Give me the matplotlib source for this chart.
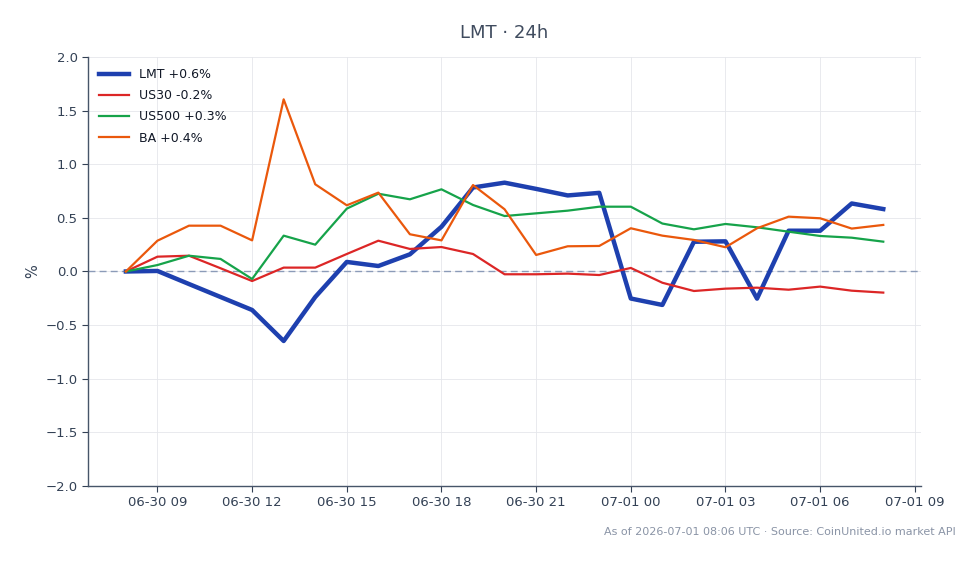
import matplotlib
matplotlib.use("Agg")
import matplotlib.pyplot as plt
import matplotlib.dates as mdates
import numpy as np
import pandas as pd

# ---------------------------------------------------------------------------
# Data (% change vs. start of window, hourly)
# ---------------------------------------------------------------------------
times = pd.date_range("2026-06-30 08:00", "2026-07-01 08:00", freq="h")

lmt = [0.00, 0.005, -0.117, -0.238, -0.359, -0.648, -0.238, 0.089, 0.051, 0.16,
       0.417, 0.783, 0.828, 0.77, 0.709, 0.733, -0.252, -0.312, 0.277, 0.281,
       -0.253, 0.38, 0.38, 0.634, 0.582]
us30 = [0.00, 0.138, 0.147, 0.03, -0.089, 0.036, 0.036, 0.163, 0.287, 0.21,
        0.228, 0.163, -0.026, -0.026, -0.02, -0.033, 0.033, -0.105, -0.182, -0.16,
        -0.151, -0.17, -0.141, -0.179, -0.197]
us500 = [0.00, 0.06, 0.147, 0.117, -0.07, 0.334, 0.25, 0.586, 0.725, 0.673,
         0.766, 0.62, 0.517, 0.542, 0.567, 0.604, 0.604, 0.447, 0.393, 0.443,
         0.412, 0.371, 0.331, 0.315, 0.278]
ba = [0.00, 0.287, 0.427, 0.427, 0.29, 1.605, 0.813, 0.617, 0.735, 0.347,
      0.29, 0.806, 0.58, 0.154, 0.235, 0.238, 0.403, 0.334, 0.294, 0.226,
      0.403, 0.511, 0.496, 0.4, 0.434]

series = [
    ("LMT +0.6%", lmt, "#1e40af", 3.2),
    ("US30 -0.2%", us30, "#dc2626", 1.6),
    ("US500 +0.3%", us500, "#16a34a", 1.6),
    ("BA +0.4%", ba, "#ea580c", 1.6),
]

TEXT = "#334155"
GRID = "#e5e7eb"

fig = plt.figure(figsize=(9.79, 5.64), dpi=100)
ax = fig.add_axes([0.0899, 0.1383, 0.851, 0.7607])
fig.patch.set_facecolor("white")

for label, vals, color, lw in series:
    ax.plot(times, vals, color=color, linewidth=lw, label=label, zorder=3)

ax.axhline(0, color="#8b9bb8", linewidth=1.0, linestyle=(0, (5, 3)), zorder=2)

ax.set_ylim(-2.0, 2.0)
ax.set_yticks(np.arange(-2.0, 2.01, 0.5))
ax.xaxis.set_major_locator(mdates.HourLocator(byhour=[0, 3, 6, 9, 12, 15, 18, 21]))
ax.xaxis.set_major_formatter(mdates.DateFormatter("%m-%d %H"))

ax.grid(True, color=GRID, linewidth=0.6, zorder=0)
for sp in ["top", "right"]:
    ax.spines[sp].set_visible(False)
for sp in ["left", "bottom"]:
    ax.spines[sp].set_color("#475569")
    ax.spines[sp].set_linewidth(1.0)
ax.tick_params(colors=TEXT, labelsize=9.5, length=4, width=0.8)
for t in ax.get_xticklabels() + ax.get_yticklabels():
    t.set_color(TEXT)

ax.set_ylabel("%", fontsize=10.5, color=TEXT)
ax.set_title("LMT · 24h", fontsize=13, color="#3f4b5e", pad=14)

leg = ax.legend(loc="upper left", frameon=False, fontsize=9,
                handlelength=2.4, labelspacing=0.65)
for t in leg.get_texts():
    t.set_color("#111827")

fig.text(0.976, 0.048, "As of 2026-07-01 08:06 UTC · Source: CoinUnited.io market API",
         ha="right", va="bottom", fontsize=8, color="#8a94a6")

fig.savefig("out.png", dpi=100, facecolor="white")
